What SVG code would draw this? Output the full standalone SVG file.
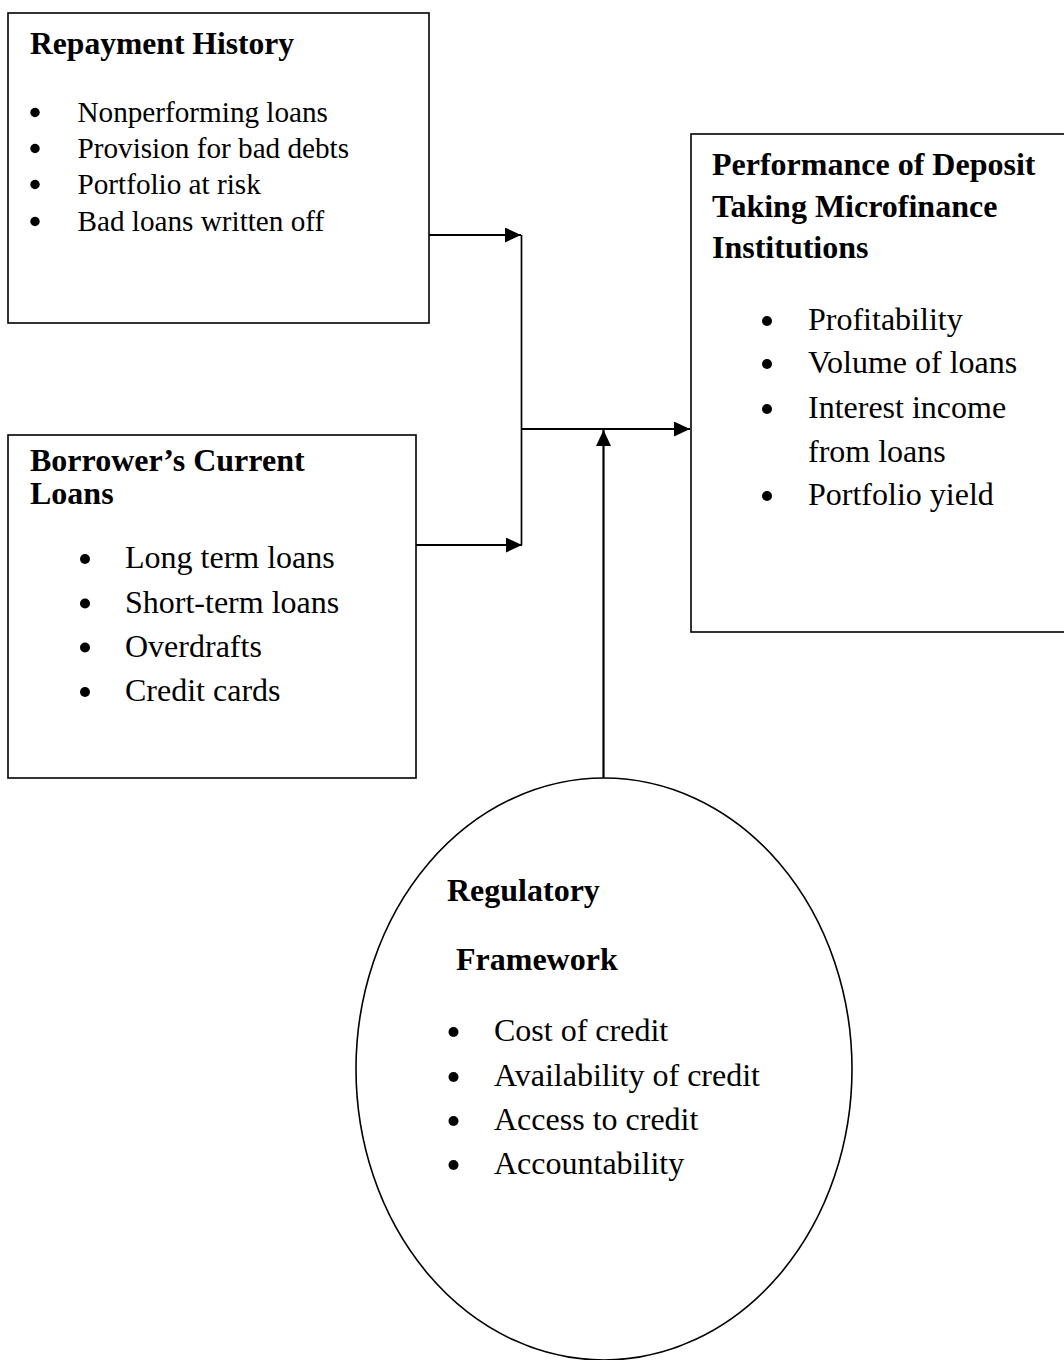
<svg xmlns="http://www.w3.org/2000/svg" width="1064" height="1360" viewBox="0 0 1064 1360">
<defs>
<style>
.box{fill:#fff;stroke:#000;stroke-width:1.6}
.t{font-family:"Liberation Serif","Times New Roman",serif;fill:#000}
.b{font-weight:bold;font-size:32px}
.i{font-size:32px}
.i1{font-size:29.2px}
.dot{fill:#000}
.c{fill:none;stroke:#000;stroke-width:2.2}
</style>
<marker id="ah" viewBox="0 0 16 15" refX="16" refY="7.5" markerWidth="16" markerHeight="15" markerUnits="userSpaceOnUse" orient="auto">
<path d="M0,0 L16,7.5 L0,15 Z" fill="#000"/>
</marker>
</defs>
<rect width="1064" height="1360" fill="#fff"/>

<g id="repayment-history">
<rect class="box" x="8" y="13" width="421" height="310"/>
<text class="t b" x="30" y="54" style="font-size:31.6px">Repayment History</text>
<circle class="dot" cx="35" cy="112.5" r="4.7"/>
<text class="t i1" x="77.5" y="122">Nonperforming loans</text>
<circle class="dot" cx="35" cy="148.5" r="4.7"/>
<text class="t i1" x="77.5" y="158">Provision for bad debts</text>
<circle class="dot" cx="35" cy="184.5" r="4.7"/>
<text class="t i1" x="77.5" y="194">Portfolio at risk</text>
<circle class="dot" cx="35" cy="221.5" r="4.7"/>
<text class="t i1" x="77.5" y="231">Bad loans written off</text>
</g>

<g id="borrowers-current-loans">
<rect class="box" x="8" y="435" width="408" height="343"/>
<text class="t b" x="30" y="471">Borrower’s Current</text>
<text class="t b" x="30" y="504">Loans</text>
<circle class="dot" cx="85" cy="559" r="5"/>
<text class="t i" x="125" y="567.5">Long term loans</text>
<circle class="dot" cx="85" cy="603.5" r="5"/>
<text class="t i" x="125" y="612.5">Short-term loans</text>
<circle class="dot" cx="85" cy="647.5" r="5"/>
<text class="t i" x="125" y="656.5">Overdrafts</text>
<circle class="dot" cx="85" cy="692" r="5"/>
<text class="t i" x="125" y="701">Credit cards</text>
</g>

<g id="performance">
<rect class="box" x="691" y="134" width="390" height="498"/>
<text class="t b" x="712" y="175">Performance of Deposit</text>
<text class="t b" x="712" y="216.5">Taking Microfinance</text>
<text class="t b" x="712" y="258">Institutions</text>
<circle class="dot" cx="767" cy="321" r="5"/>
<text class="t i" x="808" y="329.5">Profitability</text>
<circle class="dot" cx="767" cy="364" r="5"/>
<text class="t i" x="808" y="372.5">Volume of loans</text>
<circle class="dot" cx="767" cy="409" r="5"/>
<text class="t i" x="808" y="417.5">Interest income</text>
<text class="t i" x="808" y="461.5">from loans</text>
<circle class="dot" cx="767" cy="496" r="5"/>
<text class="t i" x="808" y="505">Portfolio yield</text>
</g>

<g id="regulatory-framework">
<ellipse class="box" cx="604" cy="1069" rx="248" ry="291"/>
<text class="t b" x="447" y="901">Regulatory</text>
<text class="t b" x="456" y="970">Framework</text>
<circle class="dot" cx="453.5" cy="1032" r="5"/>
<text class="t i" x="494" y="1040.5">Cost of credit</text>
<circle class="dot" cx="453.5" cy="1077" r="5"/>
<text class="t i" x="494" y="1085.5">Availability of credit</text>
<circle class="dot" cx="453.5" cy="1121" r="5"/>
<text class="t i" x="494" y="1129.5">Access to credit</text>
<circle class="dot" cx="453.5" cy="1165" r="5"/>
<text class="t i" x="494" y="1173.5">Accountability</text>
</g>

<g id="connectors">
<line class="c" x1="429" y1="235" x2="521" y2="235" marker-end="url(#ah)"/>
<line class="c" x1="416" y1="545" x2="522" y2="545" marker-end="url(#ah)"/>
<line class="c" x1="521.5" y1="235" x2="521.5" y2="545" style="stroke-width:1.7"/>
<line class="c" x1="521.5" y1="429" x2="690" y2="429" marker-end="url(#ah)"/>
<line class="c" x1="603.5" y1="778" x2="603.5" y2="430" marker-end="url(#ah)"/>
</g>
</svg>
